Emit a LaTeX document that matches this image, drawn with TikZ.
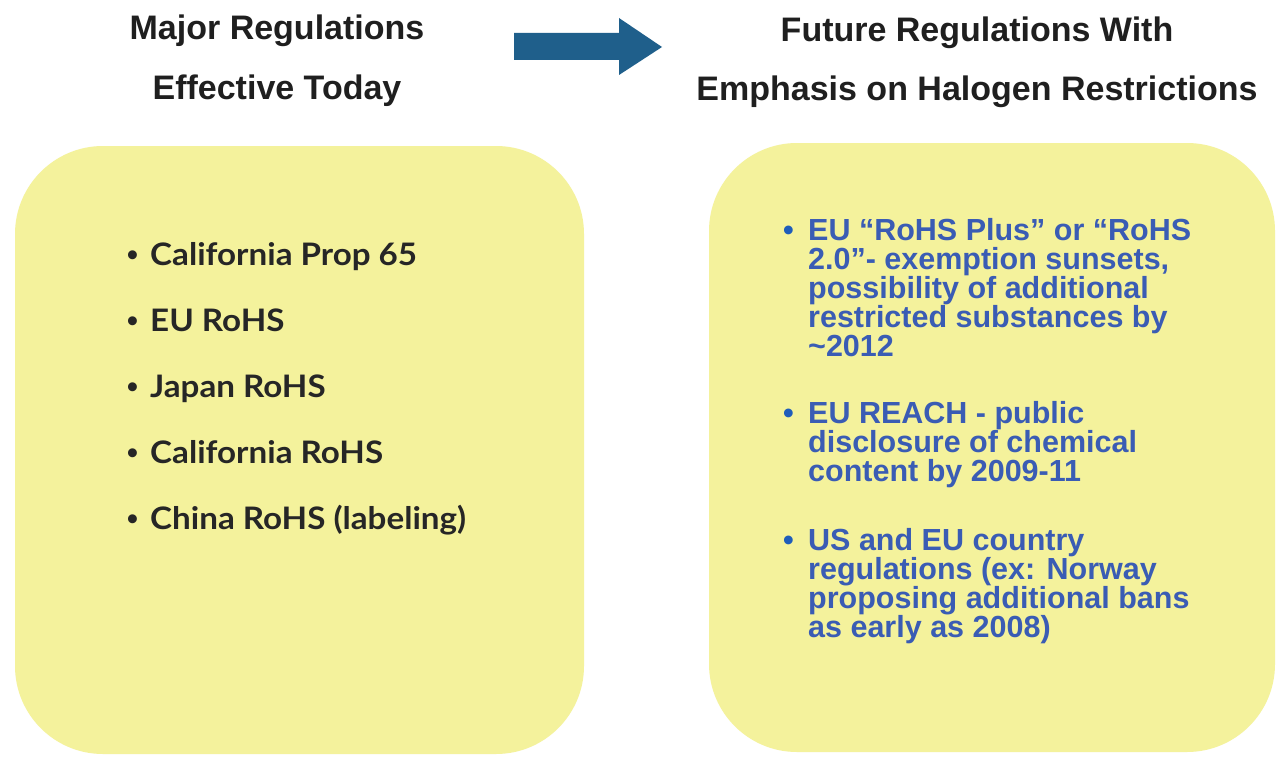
\documentclass[tikz,border=0pt]{standalone}
\usepackage{fontspec}
\setmainfont{Liberation Sans}
\newfontfamily\latofont[FakeStretch=1.07]{Lato}
\definecolor{boxyellow}{HTML}{F4F29C}
\definecolor{arrowblue}{HTML}{1F5F8B}
\definecolor{itemblue}{HTML}{3A5CB4}
\definecolor{bulletblue}{HTML}{1F5DBA}
\definecolor{darktext}{HTML}{262626}
\tikzset{
  panel/.style={fill=boxyellow, draw=none, rounded corners=88pt},
  title/.style={font=\fontsize{34}{40}\selectfont\bfseries, text=black!88, anchor=base, inner sep=0pt},
  leftitem/.style={font=\latofont\fontsize{31}{36}\selectfont\bfseries, text=darktext, anchor=base west, inner sep=0pt},
  rightitem/.style={font=\fontsize{30.5}{29}\selectfont\bfseries, text=itemblue, anchor=base west, inner sep=0pt},
}
\newcommand{\lbul}{\makebox[23pt][l]{\rmfamily\textbullet}}
\newcommand{\rbul}{\makebox[25pt][l]{\textcolor{bulletblue}{\textbullet}}}
\begin{document}
\begin{tikzpicture}[x=1pt,y=-1pt]
  \useasboundingbox (0,0) rectangle (1276,757);
  \fill[white] (0,0) rectangle (1276,757);
  % panels
  \path[panel] (15,146) rectangle (584,754);
  \path[panel] (709,143) rectangle (1275,752);
  % titles
  \node[title] (t1) at (277,40) {Major Regulations};
  \node[title] (t2) at (277,100) {Effective Today};
  \node[title] (t3) at (977,42) {Future Regulations With};
  \node[title] (t4) at (977,101) {Emphasis on Halogen Restrictions};
  % block arrow
  \fill[arrowblue] (514,33) -- (619,33) -- (619,18) -- (662,47) -- (619,75) -- (619,60) -- (514,60) -- cycle;
  % left list
  \node[leftitem] (l1) at (127,265) {\lbul California Prop 65};
  \node[leftitem] (l2) at (127,331) {\lbul EU RoHS};
  \node[leftitem] (l3) at (127,397) {\lbul Japan RoHS};
  \node[leftitem] (l4) at (127,463) {\lbul California RoHS};
  \node[leftitem] (l5) at (127,529) {\lbul China RoHS (labeling)};
  % right list
  \node[rightitem] (r1) at (783,240) {\parbox[t]{470pt}{\hangindent=25pt\hangafter=1\noindent\rbul EU “RoHS Plus” or “RoHS\\2.0”- exemption sunsets,\\possibility of additional\\restricted substances by\\\textasciitilde2012}};
  \node[rightitem] (r2) at (783,423) {\parbox[t]{470pt}{\hangindent=25pt\hangafter=1\noindent\rbul EU REACH - public\\disclosure of chemical\\content by 2009-11}};
  \node[rightitem] (r3) at (783,550) {\parbox[t]{470pt}{\hangindent=25pt\hangafter=1\noindent\rbul US and EU country\\regulations (ex: Norway\\proposing additional bans\\as early as 2008)}};
\end{tikzpicture}
\end{document}
